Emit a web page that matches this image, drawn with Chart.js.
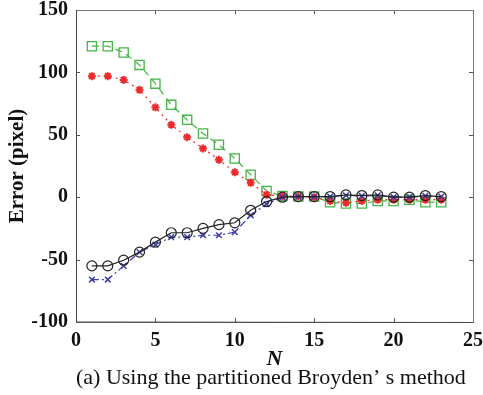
<!DOCTYPE html>
<html>
<head>
<meta charset="utf-8">
<script src="https://cdn.jsdelivr.net/npm/chart.js@4.4.1/dist/chart.umd.min.js"></script>
<style>
  html, body { margin: 0; padding: 0; background: #fff; }
  #wrap { width: 483px; height: 395px; position: relative; }
</style>
</head>
<body>
<div id="wrap"><canvas id="errChart"></canvas></div>
<script>
// Iteration index N
const iterations = [1, 2, 3, 4, 5, 6, 7, 8, 9, 10, 11, 12, 13, 14, 15, 16, 17, 18, 19, 20, 21, 22, 23];

// Error series (pixel)
const greenErr = [121, 121, 116, 106, 91, 74, 62, 51, 42, 31, 18, 5, 1, 0.5, 0.5, -4, -5, -5, -3, -3, -2, -4, -4];
const redErr   = [97, 97, 94, 86, 72, 58, 48, 39, 30, 20, 11.5, 2, 1, 0.5, 0, -3, -4.5, -3, -2, -2, -2, -2, -2];
const blackErr = [-55, -55, -50.5, -44, -36, -28.5, -28.5, -25, -22, -20.5, -10.5, -3.5, 0, 0.5, 0.5, 0.5, 1.8, 1.3, 1.8, 0, 0, 1.3, 0.5];
const blueErr  = [-66, -66, -55, -44, -38, -32, -32, -30.5, -30.5, -28, -14.5, -5.5, 0, 0.5, 0.5, 0.5, 1.5, 1, 1.5, 0, 0, 1, 0.5];

// Axis ticks
const xTicks = [0, 5, 10, 15, 20, 25];
const yTicks = [-100, -50, 0, 50, 100, 150];

const serif = '"Liberation Serif", "DejaVu Serif", serif';

function pts(ys) {
    return ys.map((y, i) => ({ x: iterations[i], y: y }));
}

// MATLAB-like box with inward ticks on all four sides
const boxTicks = {
    id: 'boxTicks',
    afterDatasetsDraw(chart) {
        const { ctx, chartArea: a, scales } = chart;
        ctx.save();
        ctx.strokeStyle = '#555';
        ctx.lineWidth = 1;
        ctx.beginPath();
        xTicks.forEach(v => {
            const px = Math.round(scales.x.getPixelForValue(v)) + 0.5;
            ctx.moveTo(px, a.bottom); ctx.lineTo(px, a.bottom - 4);
            ctx.moveTo(px, a.top); ctx.lineTo(px, a.top + 4);
        });
        yTicks.forEach(v => {
            const py = Math.round(scales.y.getPixelForValue(v)) + 0.5;
            ctx.moveTo(a.left, py); ctx.lineTo(a.left + 4, py);
            ctx.moveTo(a.right, py); ctx.lineTo(a.right - 4, py);
        });
        ctx.stroke();
        ctx.strokeStyle = '#777';
        ctx.strokeRect(Math.round(a.left) + 0.5, Math.round(a.top) + 0.5,
            Math.round(a.right - a.left), Math.round(a.bottom - a.top));
        ctx.strokeStyle = '#444';
        ctx.beginPath();
        ctx.moveTo(Math.round(a.left) + 0.5, a.top);
        ctx.lineTo(Math.round(a.left) + 0.5, a.bottom);
        ctx.lineTo(a.right, Math.round(a.bottom) + 0.5);
        ctx.stroke();
        ctx.restore();
    }
};

const ctx = document.getElementById('errChart');
new Chart(ctx, {
    type: 'line',
    data: {
        datasets: [
            {
                label: 'black',
                data: pts(blackErr),
                borderColor: '#222',
                borderWidth: 1.2,
                pointStyle: 'circle',
                pointRadius: 5,
                pointBorderWidth: 1.2,
                pointBackgroundColor: 'rgba(0,0,0,0)',
                pointBorderColor: '#222',
                order: 1
            },
            {
                label: 'blue',
                data: pts(blueErr),
                borderColor: '#3c3caa',
                borderWidth: 1.2,
                borderDash: [7, 3, 2, 3],
                pointStyle: 'crossRot',
                pointRadius: 4,
                pointBorderWidth: 1.5,
                pointBorderColor: '#3c3caa',
                order: 2
            },
            {
                label: 'red',
                data: pts(redErr),
                borderColor: '#ee2a2a',
                borderWidth: 1.2,
                borderDash: [2, 4],
                pointStyle: 'star',
                pointRadius: 4,
                pointBorderWidth: 2,
                pointBorderColor: '#ee2a2a',
                order: 3
            },
            {
                label: 'green',
                data: pts(greenErr),
                borderColor: '#46b446',
                borderWidth: 1.2,
                borderDash: [7, 5],
                pointStyle: 'rect',
                pointRadius: 6.5,
                pointBorderWidth: 1.3,
                pointBackgroundColor: 'rgba(0,0,0,0)',
                pointBorderColor: '#46b446',
                order: 4
            }
        ]
    },
    options: {
        responsive: true,
        maintainAspectRatio: false,
        animation: false,
        layout: { padding: 0 },
        plugins: {
            legend: { display: false },
            tooltip: { enabled: false },
            title: {
                display: true,
                position: 'bottom',
                fullSize: false,
                align: 'start',
                text: '(a) Using the partitioned Broyden\u2019 s method',
                color: '#111',
                font: { family: serif, size: 22, weight: 'normal', lineHeight: 1.2 },
                padding: { top: 0, bottom: 4 }
            }
        },
        scales: {
            x: {
                type: 'linear',
                min: 0,
                max: 25,
                afterBuildTicks: axis => { axis.ticks = xTicks.map(v => ({ value: v })); },
                afterFit: axis => {
                    axis.height = 42.6;
                    axis.paddingLeft = 0;
                    axis.paddingRight = 10;
                },
                grid: { display: false, drawTicks: false },
                border: { display: false },
                ticks: { color: '#111', font: { family: serif, size: 20, weight: 'bold' }, padding: 7, maxRotation: 0 },
                title: {
                    display: true,
                    text: 'N',
                    color: '#111',
                    font: { family: serif, size: 22, style: 'italic', weight: 'bold', lineHeight: 1 },
                    padding: { top: 0, bottom: -5.4 }
                }
            },
            y: {
                type: 'linear',
                min: -100,
                max: 150,
                afterBuildTicks: axis => { axis.ticks = yTicks.map(v => ({ value: v })); },
                afterFit: axis => {
                    axis.width = 76;
                    axis.paddingTop = 10;
                    axis.paddingBottom = 0;
                },
                grid: { display: false, drawTicks: false },
                border: { display: false },
                ticks: { color: '#111', font: { family: serif, size: 20, weight: 'bold', lineHeight: 1 }, padding: 8 },
                title: {
                    display: true,
                    text: 'Error (pixel)',
                    color: '#111',
                    font: { family: serif, size: 21, weight: 'bold', lineHeight: 1.2 },
                    padding: { top: 5, bottom: 0 }
                }
            }
        }
    },
    plugins: [boxTicks]
});
</script>
</body>
</html>
